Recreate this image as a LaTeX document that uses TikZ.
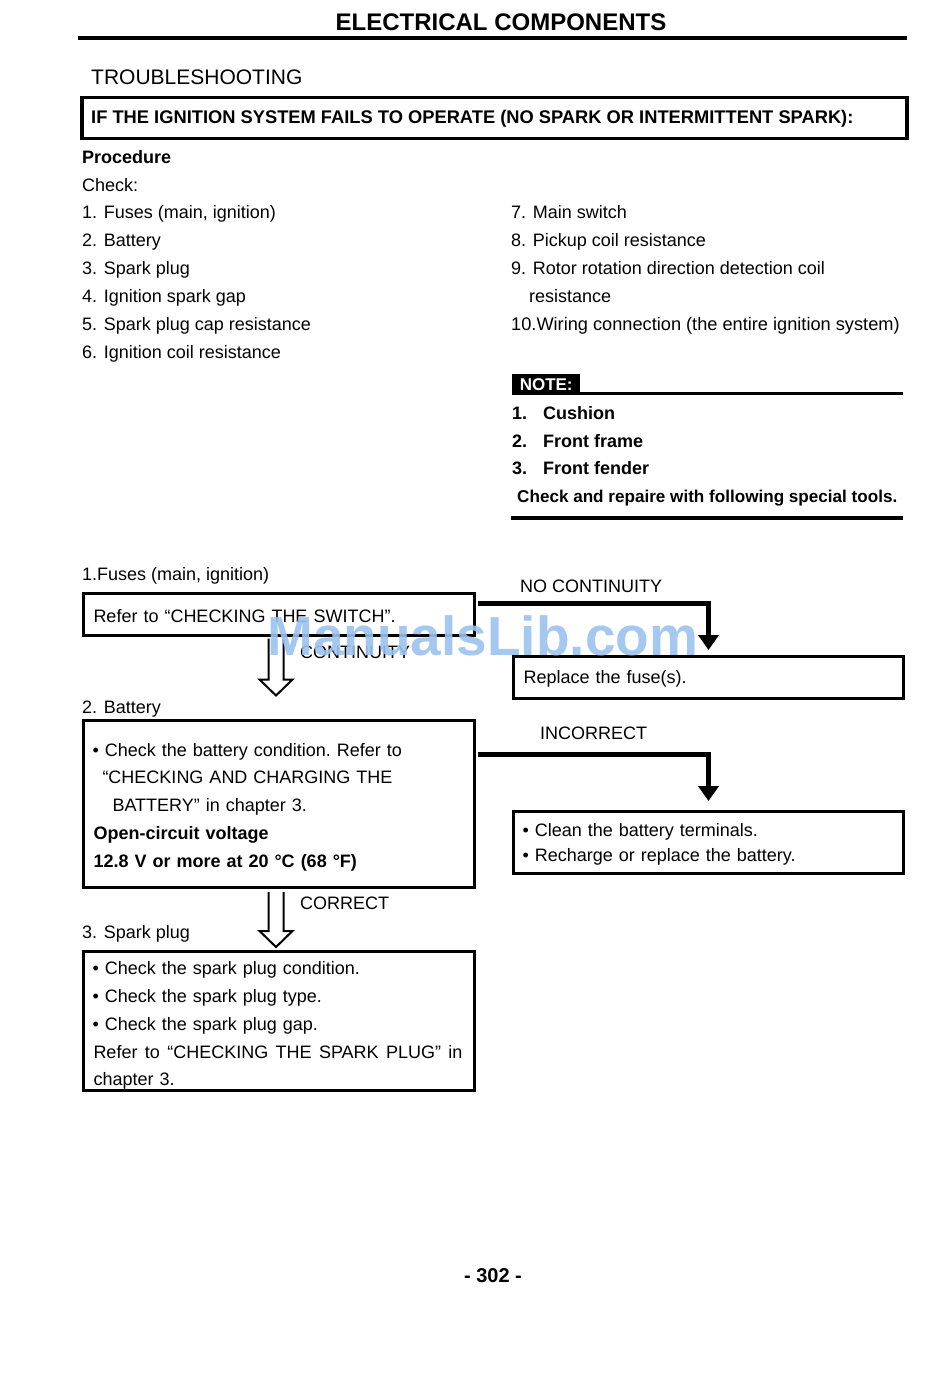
\documentclass[tikz,border=0pt]{standalone}
\usepackage{fontspec}
\setmainfont{Liberation Sans}
\usetikzlibrary{arrows.meta,calc}
\definecolor{wmark}{RGB}{155,195,238}
\begin{document}
\begin{tikzpicture}[x=1pt,y=-1pt,
  txt/.style={anchor=base west, inner sep=0pt, font=\fontsize{18}{22}\selectfont},
  btxt/.style={anchor=base west, inner sep=0pt, font=\bfseries\fontsize{18}{22}\selectfont},
  box/.style={draw, line width=3pt, anchor=north west, inner xsep=9pt, inner ysep=0pt, align=left},
  flow/.style={line width=5pt, -{Triangle[width=20pt,length=15pt]}},
  hollow/.style={draw, line width=2pt, fill=white, line join=miter},
  rulethick/.style={line width=4pt},
]
\useasboundingbox[fill=white] (0,0) rectangle (950,1378);

% header
\node[anchor=base, inner sep=0pt, font=\bfseries\fontsize{24}{28}\selectfont] (title) at (501,31) {ELECTRICAL COMPONENTS};
\draw[rulethick] (78,38.5) -- (907,38.5);
\node[anchor=base west, inner sep=0pt, font=\fontsize{21}{24}\selectfont] (ts) at (91,84.5) {TROUBLESHOOTING};
\node[draw, line width=3.5pt, anchor=north west, minimum width=825pt, minimum height=41pt, inner sep=0pt] (hdr) at (80,96) {};
\node[anchor=base west, inner sep=0pt, font=\bfseries\fontsize{18.3}{22}\selectfont] (hdrt) at (91,123.5) {IF THE IGNITION SYSTEM FAILS TO OPERATE (NO SPARK OR INTERMITTENT SPARK):};

% procedure
\node[btxt] (proc) at (82,163.5) {Procedure};
\node[txt] (chk) at (82,191.5) {Check:};
\node[txt] (l1) at (82,218.5) {1. Fuses (main, ignition)};
\node[txt] (l2) at (82,246.5) {2. Battery};
\node[txt] (l3) at (82,274.5) {3. Spark plug};
\node[txt] (l4) at (82,302.5) {4. Ignition spark gap};
\node[txt] (l5) at (82,330.5) {5. Spark plug cap resistance};
\node[txt] (l6) at (82,358.5) {6. Ignition coil resistance};
\node[txt] (r7) at (511,218.5) {7. Main switch};
\node[txt] (r8) at (511,246.5) {8. Pickup coil resistance};
\node[txt] (r9) at (511,274.5) {9. Rotor rotation direction detection coil};
\node[txt] (r9b) at (529,302.5) {resistance};
\node[anchor=base west, inner sep=0pt, font=\fontsize{18.2}{22}\selectfont] (r10) at (511,330.5) {10.Wiring connection (the entire ignition system)};

% note
\node[fill=black, anchor=north west, minimum width=68pt, minimum height=21pt, inner sep=0pt,
      text=white, font=\bfseries\fontsize{17}{22}\selectfont] (note) at (512,374) {NOTE:};
\draw[line width=3pt] (580,393.5) -- (903,393.5);
\node[btxt] (n1) at (512,419.5) {1.};
\node[btxt] (n1t) at (543,419.5) {Cushion};
\node[btxt] (n2) at (512,447.5) {2.};
\node[btxt] (n2t) at (543,447.5) {Front frame};
\node[btxt] (n3) at (512,474.5) {3.};
\node[btxt] (n3t) at (543,474.5) {Front fender};
\node[anchor=base west, inner sep=0pt, font=\bfseries\fontsize{17.1}{22}\selectfont] (n4) at (517,502.5) {Check and repaire with following special tools.};
\draw[rulethick] (511,517.5) -- (903,517.5);

% flow chart
\node[txt] (h1) at (82,580.5) {1.Fuses (main, ignition)};
\node[box, minimum width=391pt, minimum height=42pt, text width=373pt, font=\fontsize{18}{28}\selectfont] (fuse) at (82,592)
  {\rule{0pt}{17pt}\hspace*{1pt}Refer to “CHECKING THE SWITCH”.};
\node[txt] (cont) at (300,658.5) {CONTINUITY};
\node[txt] (nocont) at (520,592.5) {NO CONTINUITY};
\node[box, minimum width=390pt, minimum height=42pt, text width=372pt, font=\fontsize{18}{28}\selectfont] (repl) at (512,655)
  {\rule{0pt}{15pt}\hspace*{1pt}Replace the fuse(s).};

\node[txt] (h2) at (82,713.5) {2. Battery};
\node[box, minimum width=391pt, minimum height=167pt, text width=373pt, font=\fontsize{18}{27.8}\selectfont] (batt) at (82,719)
  {\rule{0pt}{19pt}• Check the battery condition.\ Refer to\\
   \hspace*{10pt}“CHECKING AND CHARGING THE\\
   \hspace*{20pt}BATTERY” in chapter 3.\\
   \hspace*{1pt}\textbf{Open-circuit voltage}\\
   \hspace*{1pt}\textbf{12.8 V or more at 20 °C (68 °F)}};
\node[txt] (incor) at (540,739.5) {INCORRECT};
\node[box, minimum width=390pt, minimum height=62pt, text width=372pt, font=\fontsize{18}{25}\selectfont] (clean) at (512,810)
  {\rule{0pt}{17pt}• Clean the battery terminals.\\
   • Recharge or replace the battery.};

\node[txt] (corr) at (300,909.5) {CORRECT};
\node[txt] (h3) at (82,938.5) {3. Spark plug};
\node[box, minimum width=391pt, minimum height=139pt, text width=373pt, font=\fontsize{18}{27.9}\selectfont] (spark) at (82,950)
  {\rule{0pt}{22pt}• Check the spark plug condition.\\
   • Check the spark plug type.\\
   • Check the spark plug gap.\\
   \makebox[370pt][l]{\hspace*{1pt}Refer\hfill to\hfill “CHECKING\hfill THE\hfill SPARK\hfill PLUG”\hfill in}\\
   \hspace*{1pt}chapter 3.};

% connectors
\draw[flow] ($(fuse.north east)+(2,11)$) -| ([yshift=5pt]repl.north);
\draw[flow] ($(batt.north east)+(2,35)$) -| ([yshift=9pt]clean.north);
\draw[hollow] ($(fuse.south)+(-10.5,1.5)$) -- ++(0,41) -- ++(-9,0) -- ++(16.5,16) -- ++(16.5,-16) -- ++(-9,0) -- ++(0,-41);
\draw[hollow] ($(batt.south)+(-10.5,3)$) -- ++(0,39) -- ++(-9,0) -- ++(16.5,16) -- ++(16.5,-16) -- ++(-9,0) -- ++(0,-39);

% page number
\node[anchor=base, inner sep=0pt, font=\bfseries\fontsize{20}{24}\selectfont] (page) at (493,1282) {- 302 -};

% watermark
\node[anchor=base west, inner sep=0pt, text=wmark, text opacity=0.9, font=\bfseries\fontsize{55}{60}\selectfont] (wm) at (267,655) {ManualsLib.com};
\end{tikzpicture}
\end{document}
